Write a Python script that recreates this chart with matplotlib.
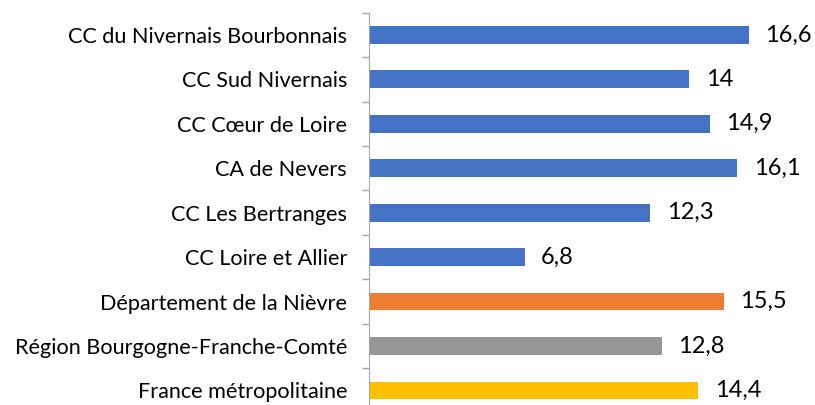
import numpy as np
import matplotlib
matplotlib.use("Agg")
import matplotlib.pyplot as plt

labels = [
    "CC du Nivernais Bourbonnais",
    "CC Sud Nivernais",
    "CC Cœur de Loire",
    "CA de Nevers",
    "CC Les Bertranges",
    "CC Loire et Allier",
    "Département de la Nièvre",
    "Région Bourgogne-Franche-Comté",
    "France métropolitaine",
]
values = [16.6, 14, 14.9, 16.1, 12.3, 6.8, 15.5, 12.8, 14.4]
colors = ["#4472C4"] * 6 + ["#ED7D31", "#969696", "#FFC000"]

plt.rcParams["font.family"] = ["Lato", "DejaVu Sans"]

fig = plt.figure(figsize=(8.15, 4.05), dpi=100)
ax = fig.add_axes([369.3 / 815, -0.019, 1 - 369.3 / 815, 0.9877])

y = np.arange(len(labels))
ax.barh(y, values, height=0.40, color=colors)
for yi, v in zip(y, values):
    txt = ("%g" % v).replace(".", ",")
    ax.text(v + 0.72, yi, txt, va="center", ha="left", fontsize=17, color="black")

ax.set_xlim(0, 19.5)
ax.set_ylim(len(labels) - 0.5, -0.5)
ax.set_yticks(y)
ax.set_yticklabels(labels, fontsize=15.6, color="black")
ax.set_yticks(np.arange(-0.5, len(labels), 1.0), minor=True)
ax.tick_params(axis="y", which="major", length=0, pad=16)
ax.tick_params(axis="y", which="minor", length=5, color="#A6A6A6", width=1)
ax.set_xticks([])
for s in ["top", "right", "bottom"]:
    ax.spines[s].set_visible(False)
ax.spines["left"].set_color("#A6A6A6")

fig.savefig("out.png", dpi=100)
